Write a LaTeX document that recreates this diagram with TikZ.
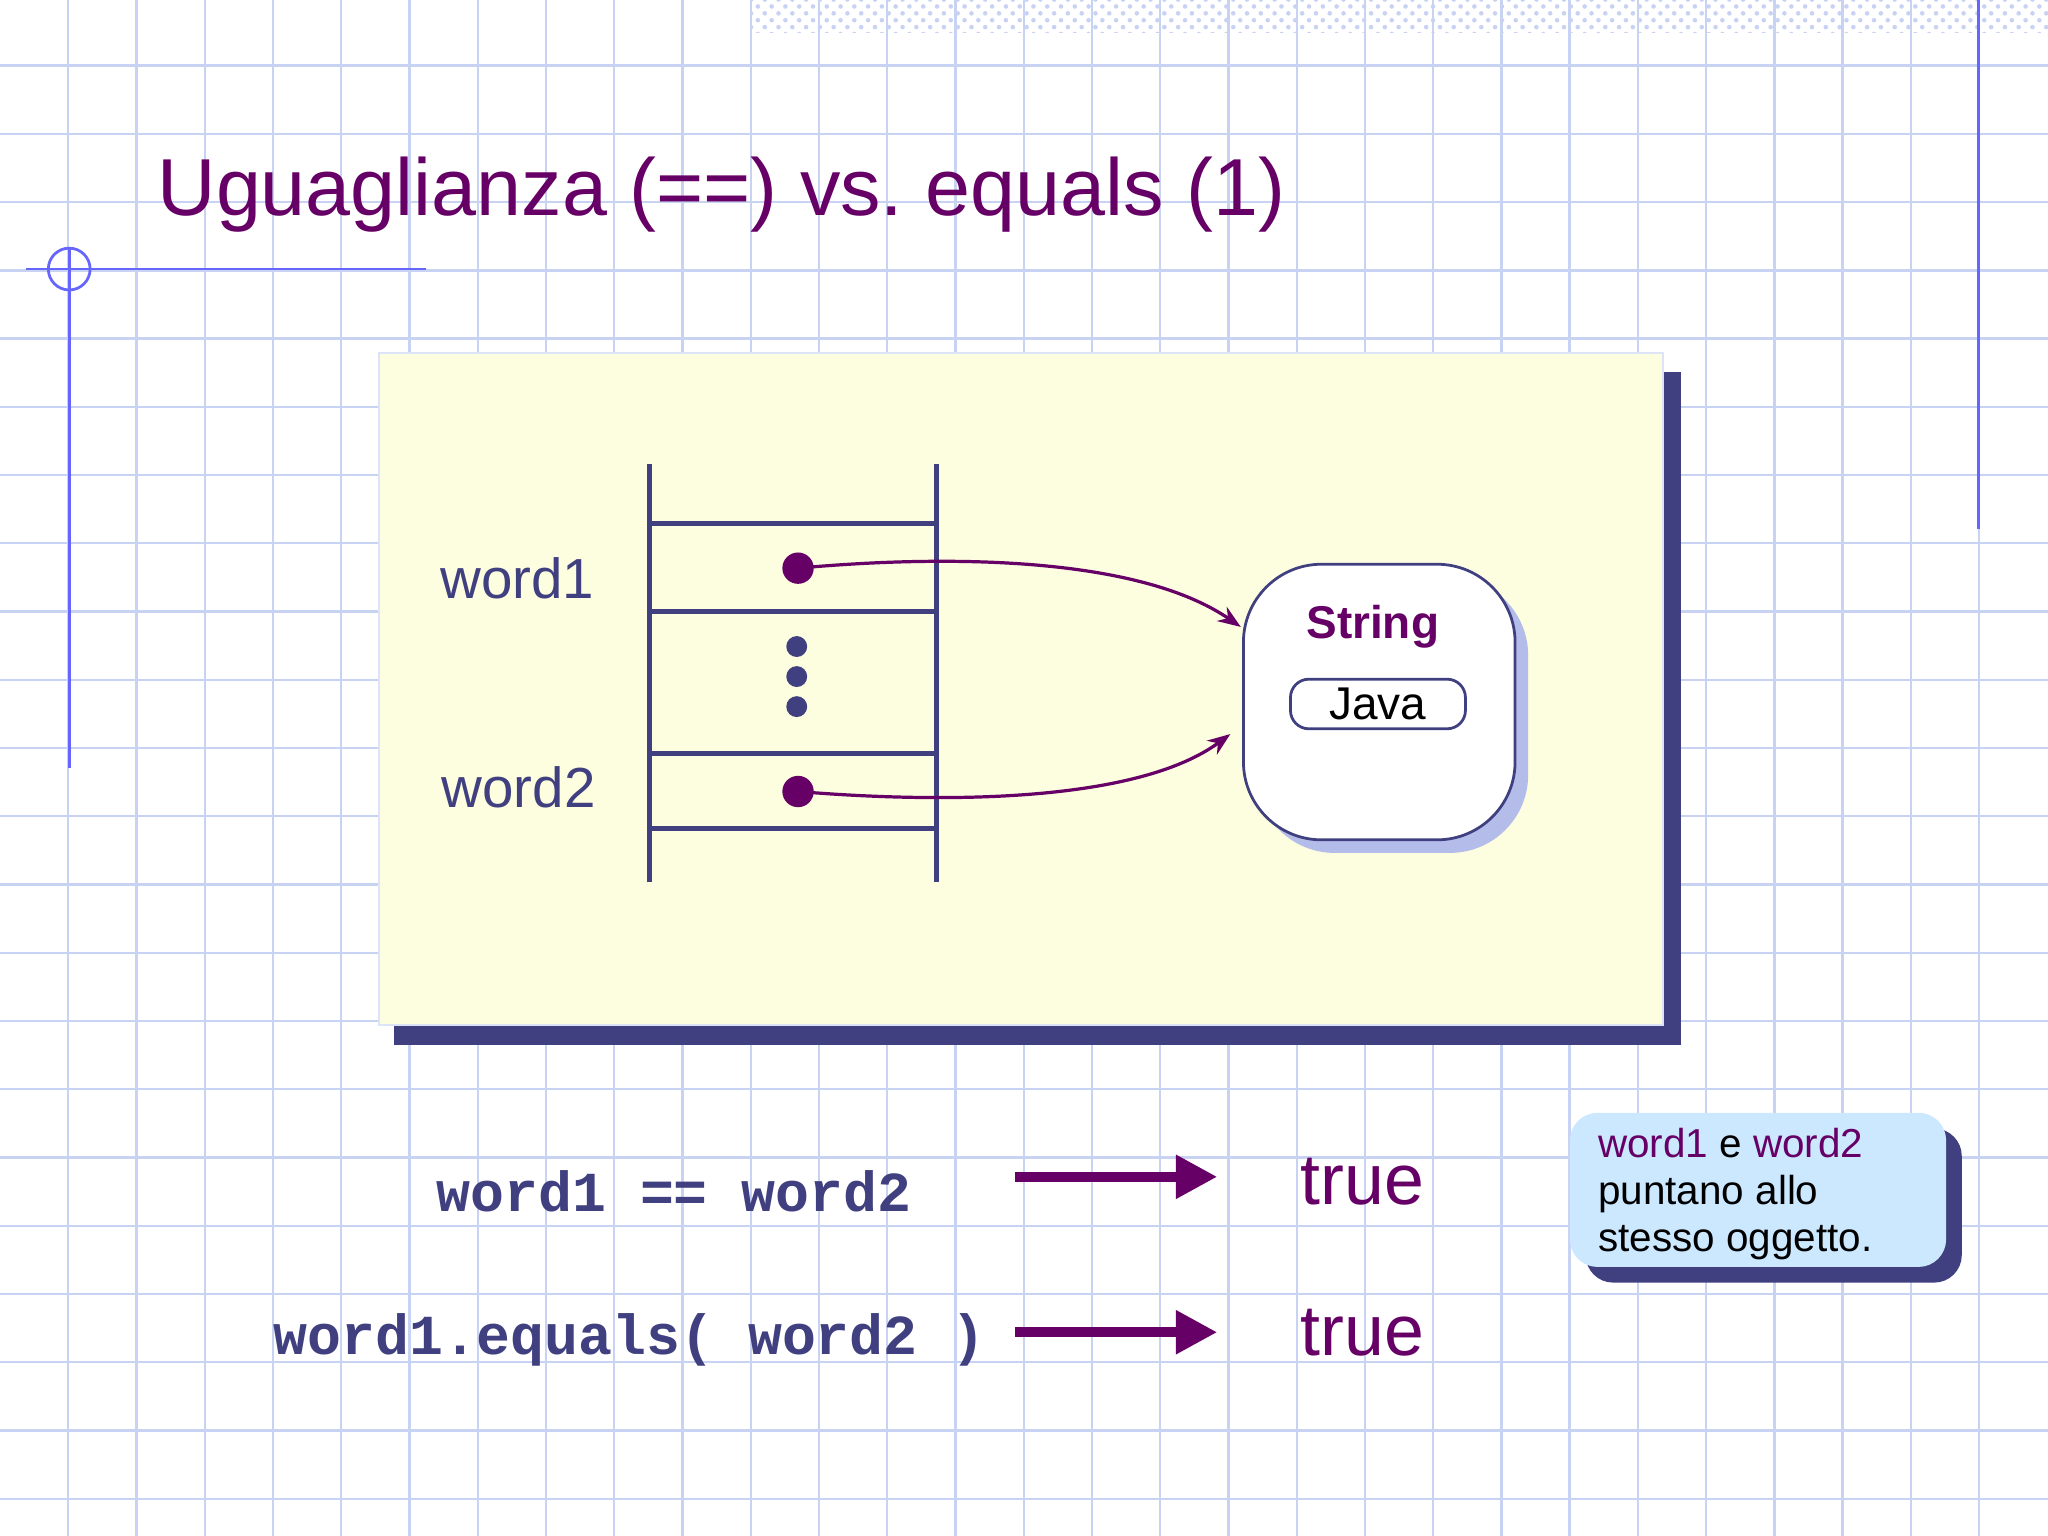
\documentclass[tikz,border=0pt]{standalone}
\usepackage{fontspec}
\setmainfont{Liberation Sans}
\newfontfamily\codefont{Liberation Mono}
\usetikzlibrary{arrows.meta,patterns}
\definecolor{navy}{HTML}{404080}
\definecolor{purp}{HTML}{660066}
\definecolor{gridc}{HTML}{C8D2F2}
\definecolor{paper}{HTML}{FDFDE0}
\definecolor{callc}{HTML}{CCE8FF}
\definecolor{shadc}{HTML}{B4BCEA}
\frenchspacing
\begin{document}
\begin{tikzpicture}[x=0.01cm,y=-0.01cm,
  lad/.style={navy,line width=1.1pt},
  ptr/.style={purp,line width=0.7pt,-{Stealth[length=5pt]}},
  bigarrow/.style={purp,line width=2.2pt,-{Triangle[length=9pt,width=9pt]}},
  code/.style={font=\codefont\bfseries\fontsize{12.3}{14}\selectfont,text=navy},
  tv/.style={font=\fontsize{15.6}{18}\selectfont,text=purp}]
\useasboundingbox (0,0) rectangle (1568,1176);
\fill[white] (0,0) rectangle (1568,1176);
\foreach \i in {1,...,29} \draw[gridc,line width=0.5pt] (\i*52.25,0) -- (\i*52.25,1176);
\foreach \i in {0,...,22} \draw[gridc,line width=0.5pt] (0,\i*52.25-2) -- (1568,\i*52.25-2);
\fill[pattern=crosshatch dots,pattern color=gridc] (575,0) rectangle (1568,25);
\draw[blue!60,line width=0.6pt] (1515,0) -- (1515,405);
\draw[blue!60,line width=0.6pt] (20,206) -- (326,206);
\draw[blue!60,line width=0.6pt] (53,190) -- (53,588);
\draw[blue!60,line width=0.6pt] (53,206) circle (16);
\node[anchor=base west,inner sep=0,text=purp,font=\fontsize{17.6}{20}\selectfont] (title) at (120,165) {Uguaglianza (==) vs. equals (1)};
% panel
\fill[navy] (302,285) rectangle (1287,800);
\fill[paper] (290,270) rectangle (1273,785);
\draw[gridc!60,line width=0.4pt] (290,270) rectangle (1273,785);
% ladder
\draw[lad] (497,355) -- (497,675);
\draw[lad] (717,355) -- (717,675);
\foreach \y in {401,468,577,634} \draw[lad] (497,\y) -- (717,\y);
\fill[purp] (611,435) circle (12) coordinate (d1);
\fill[purp] (611,606) circle (12) coordinate (d2);
\foreach \y in {495,518,541} \fill[navy] (610,\y) circle (8);
\node[text=navy,font=\fontsize{12.3}{14}\selectfont] (w1) at (396,443) {word1};
\node[text=navy,font=\fontsize{12.3}{14}\selectfont] (w2) at (397,603) {word2};
% object
\fill[shadc,rounded corners=17pt] (962,442) rectangle (1170,653);
\draw[navy,line width=0.6pt,fill=white,rounded corners=17pt] (952,432) rectangle (1160,643);
\coordinate (objA) at (950,480);
\coordinate (objB) at (942,562);
\node[text=purp,font=\bfseries\fontsize{10}{12}\selectfont] (str) at (1051,480) {String};
\node[draw=navy,line width=0.6pt,rounded corners=4pt,minimum width=38.1pt,minimum height=10.8pt,inner sep=0,font=\fontsize{10}{12}\selectfont] (java) at (1055,539) {Java};
\draw[ptr] (d1) .. controls (720,425) and (870,425) .. (objA);
\draw[ptr] (d2) .. controls (720,615) and (870,615) .. (objB);
% bottom
\node[code] (c1) at (516,912) {word1 == word2};
\node[code] (c2) at (482,1026) {word1.equals( word2 )};
\coordinate (a1s) at (777,901); \coordinate (a1e) at (932,901);
\coordinate (a2s) at (777,1020); \coordinate (a2e) at (932,1020);
\draw[bigarrow] (a1s) -- (a1e);
\draw[bigarrow] (a2s) -- (a2e);
\node[tv] (t1) at (1043,905) {true};
\node[tv] (t2) at (1043,1020) {true};
\fill[navy,rounded corners=6pt] (1214,864) rectangle (1502,982);
\fill[callc,rounded corners=6pt] (1202,852) rectangle (1490,970);
\node[anchor=north west,align=left,inner sep=0,font=\fontsize{8.8}{10.2}\selectfont] (call) at (1223,863)
 {\textcolor{purp}{word1} e \textcolor{purp}{word2}\\puntano allo\\stesso oggetto.};
\end{tikzpicture}
\end{document}
